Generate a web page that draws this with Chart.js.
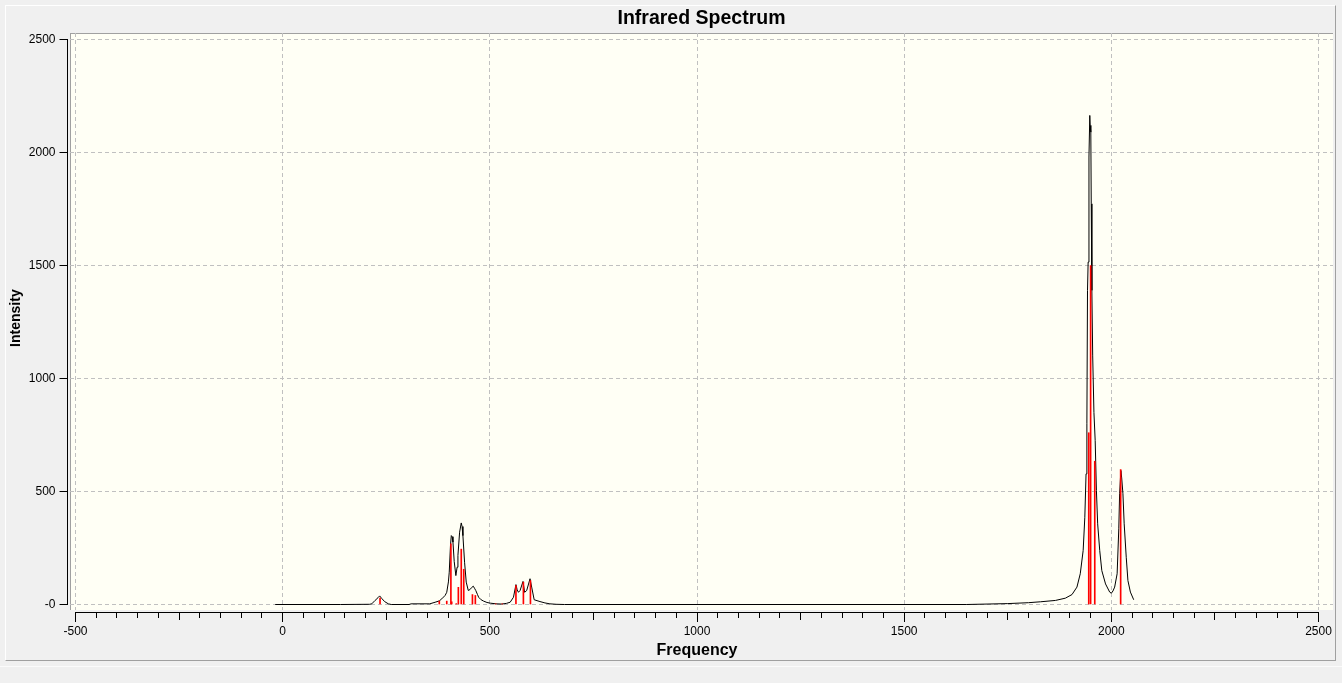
<!DOCTYPE html>
<html>
<head>
<meta charset="utf-8">
<title>Infrared Spectrum</title>
<script src="https://cdn.jsdelivr.net/npm/chart.js"></script>
<style>
  html, body { margin: 0; padding: 0; background: #f0f0f0; }
  body { width: 1342px; height: 683px; position: relative; overflow: hidden; }
  .frame { position: absolute; left: 5px; top: 5px; width: 1331px; height: 656px; box-sizing: border-box;
    border-top: 1px solid #fff; border-left: 1px solid #fff;
    border-right: 1px solid #a0a0a0; border-bottom: 1px solid #a0a0a0; }
  .status { position: absolute; left: 0; top: 666px; width: 100%; height: 1px; background: #fbfbfb; }
  #chart { position: absolute; left: 0; top: 0; }
</style>
</head>
<body>
<div class="frame"></div>
<div class="status"></div>
<canvas id="chart" width="1342" height="683"></canvas>
<script>
// red sticks: computed frequencies and intensities
const stickFreq = [235, 378, 396, 406, 408, 419, 424, 431, 437, 458, 465, 514, 530, 563, 581, 598, 1945.5, 1950, 1960, 2022.5];
const stickInt  = [28, 15, 15, 268, 12, 4, 76, 245, 156, 44, 40, 3, 3, 84, 99, 106, 760, 1500, 634, 597];

// black broadened spectrum
const curveFreq = [-18, 140, 210, 215, 223, 230, 234, 239, 246, 255, 262, 305, 310, 355, 368, 378, 384, 392, 396, 400,
  402, 405, 407, 409, 411, 414, 418, 421, 423, 427, 431, 433, 435, 439, 443, 448, 452, 456, 460, 463,
  466, 470, 473, 479, 485, 493, 501, 515, 529, 540, 549, 557, 563, 566, 569, 573, 580, 584, 589, 597,
  601, 607, 621, 633, 645, 660, 680, 1650, 1700, 1750, 1800, 1829, 1865, 1889, 1905, 1917, 1925, 1932, 1936, 1939,
  1941, 1942.5, 1944, 1946, 1948, 1949, 1950.5, 1951.5, 1953, 1955, 1958, 1961, 1964, 1967, 1972, 1977, 1986, 1996, 2000, 2004,
  2008, 2014, 2018, 2020, 2023, 2025, 2028, 2031, 2036, 2040, 2046, 2054];
const curveInt = [0, 0, 1, 3, 18, 30, 38, 27, 13, 3, 0, 0, 3, 3, 10, 16, 25, 40, 54, 100,
  143, 261, 305, 300, 276, 190, 128, 165, 217, 320, 361, 345, 305, 187, 99, 62, 66, 75, 81, 72,
  62, 45, 32, 21, 15, 9, 6, 3, 2, 5, 10, 32, 88, 65, 54, 62, 102, 54, 62, 114,
  77, 21, 13, 7, 3, 1, 0, 0, 2, 4, 8, 12, 18, 28, 44, 77, 136, 239, 386, 578,
  800, 1390, 1515, 1980, 2164, 2120, 2090, 1773, 1390, 1100, 850, 726, 504, 357, 239, 150, 91, 55, 50, 60,
  77, 136, 335, 490, 593, 560, 490, 357, 209, 106, 55, 21];

const xTickValues = [-500, 0, 500, 1000, 1500, 2000, 2500];
const yTickValues = [0, 500, 1000, 1500, 2000, 2500];

// plot box is a little wider than the labelled axis range
const X_MIN = -513.3, X_MAX = 2535;
const Y_MIN = -24.3, Y_MAX = 2528.8;

Chart.defaults.font.family = "'Liberation Sans', Arial, sans-serif";
Chart.defaults.color = '#000';

const toTicks = vals => vals.map(v => ({ value: v }));

const plotFrame = {
  id: 'plotFrame',
  beforeDraw(chart) {
    const { ctx, chartArea: a } = chart;
    ctx.save();
    ctx.fillStyle = '#fffff5';
    ctx.fillRect(a.left, a.top, a.right - a.left, a.bottom - a.top);
    ctx.fillStyle = '#a0a0a0';
    ctx.fillRect(a.left, a.top, a.right - a.left, 1);
    ctx.fillRect(a.left, a.top, 1, a.bottom - a.top);
    ctx.restore();
  },
  // move the visible axes off the plot box, spanning only the labelled range
  afterLayout(chart) {
    const s = chart.scales;
    const l = s.x.getPixelForValue(xTickValues[0]);
    const r = s.x.getPixelForValue(xTickValues[xTickValues.length - 1]);
    ['xAxis', 'xMid', 'xMinor'].forEach(id => {
      const a = s[id];
      a.left = l; a.right = r; a.width = r - l;
      a.top = 612; a.bottom = 660; a.height = 48;
      a.configure();
    });
    const y = s.yAxis;
    y.top = s.y.getPixelForValue(yTickValues[yTickValues.length - 1]);
    y.bottom = s.y.getPixelForValue(yTickValues[0]);
    y.height = y.bottom - y.top;
    y.left = 7.6; y.right = 67.5; y.width = y.right - y.left;
    y.configure();
  }
};

const minorAxis = (step, len) => ({
  type: 'linear', position: 'bottom', min: -500, max: 2500, offset: false,
  ticks: { display: false, stepSize: step, maxTicksLimit: 200 },
  grid: { drawOnChartArea: false, offset: false, tickLength: len, tickColor: '#000' },
  border: { display: false },
  afterFit: s => { s.height = 0; s.paddingLeft = 0; s.paddingRight = 0; }
});

new Chart(document.getElementById('chart'), {
  type: 'line',
  data: {
    datasets: [
      {
        type: 'bar',
        label: 'sticks',
        data: stickFreq.map((f, i) => ({ x: f, y: stickInt[i] })),
        backgroundColor: '#ff0000',
        barThickness: 1,
        xAxisID: 'x', yAxisID: 'y',
        order: 0
      },
      {
        type: 'line',
        label: 'spectrum',
        data: curveFreq.map((f, i) => ({ x: f, y: curveInt[i] })),
        borderColor: '#000',
        borderWidth: 1,
        pointRadius: 0,
        tension: 0,
        fill: false,
        xAxisID: 'x', yAxisID: 'y',
        order: 1
      }
    ]
  },
  options: {
    responsive: false,
    animation: false,
    events: [],
    layout: { padding: { top: 0, right: 9, bottom: 0, left: 0 } },
    plugins: {
      legend: { display: false },
      tooltip: { enabled: false },
      title: {
        display: true,
        text: 'Infrared Spectrum',
        fullSize: false,
        color: '#000',
        font: { size: 19.5, weight: 'bold' },
        padding: { top: 7.3, bottom: 2.3 }
      }
    },
    scales: {
      x: {
        type: 'linear', position: 'bottom', min: X_MIN, max: X_MAX, offset: false,
        afterBuildTicks: s => { s.ticks = toTicks(xTickValues); },
        ticks: { display: false },
        grid: { color: '#c0c0c0', lineWidth: 1, drawTicks: false, offset: false },
        border: { display: false, dash: [4, 3] },
        afterFit: s => { s.height = 0; s.paddingLeft = 0; s.paddingRight = 0; }
      },
      y: {
        type: 'linear', position: 'left', min: Y_MIN, max: Y_MAX,
        afterBuildTicks: s => { s.ticks = toTicks(yTickValues); },
        ticks: { display: false },
        grid: { color: '#c0c0c0', lineWidth: 1, drawTicks: false },
        border: { display: false, dash: [4, 3] },
        afterFit: s => { s.width = 0; s.paddingTop = 0; s.paddingBottom = 0; }
      },
      xAxis: {
        type: 'linear', position: 'bottom', min: -500, max: 2500, offset: false,
        afterBuildTicks: s => { s.ticks = toTicks(xTickValues); },
        ticks: { color: '#000', font: { size: 12 }, padding: 2, autoSkip: false, maxRotation: 0, callback: v => String(v) },
        grid: { drawOnChartArea: false, offset: false, tickLength: 10, tickColor: '#000' },
        border: { color: '#000', width: 1 },
        title: { display: true, text: 'Frequency', color: '#000', font: { size: 16, weight: 'bold' }, padding: 0 },
        afterFit: s => { s.height = 73; s.paddingLeft = 0; s.paddingRight = 0; }
      },
      xMid: minorAxis(250, 8),
      xMinor: minorAxis(50, 6),
      yAxis: {
        type: 'linear', position: 'left', min: 0, max: 2500,
        afterBuildTicks: s => { s.ticks = toTicks(yTickValues); },
        ticks: { color: '#000', font: { size: 12 }, padding: 4, callback: v => (v === 0 ? '-0' : String(v)) },
        grid: { drawOnChartArea: false, tickLength: 8, tickColor: '#000' },
        border: { color: '#000', width: 1 },
        // leading spaces nudge the rotated title up to where the original sits
        title: { display: true, text: '  Intensity', color: '#000', font: { size: 14, weight: 'bold' }, padding: 0 },
        afterFit: s => { s.width = 70; s.paddingTop = 0; s.paddingBottom = 0; }
      }
    }
  },
  plugins: [plotFrame]
});
</script>
</body>
</html>
